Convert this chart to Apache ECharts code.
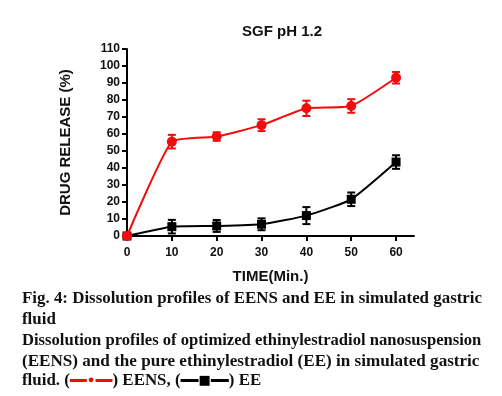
<!DOCTYPE html>
<html>
<head>
<meta charset="utf-8">
<script src="https://cdn.jsdelivr.net/npm/echarts@6/dist/echarts.min.js"></script>
<style>
html, body { margin: 0; padding: 0; background: #fff; }
#chart { width: 502px; height: 396px; }
</style>
</head>
<body>
<div id="chart"></div>
<script>
// values
const timeMin = [0, 10, 20, 30, 40, 50, 60];
const eensRelease = [0, 55.5, 58.5, 65.2, 75.1, 76.5, 93.1];
const eensSd = [0, 4, 2.5, 3.5, 4.5, 4, 3.4];
const eeRelease = [0, 5.5, 5.9, 6.9, 12, 21.6, 43.5];
const eeSd = [0, 4, 3.5, 3.5, 5, 4, 4];
const xTicks = [0, 10, 20, 30, 40, 50, 60];

const RED = "#f20d0d";
const BLACK = "#000";
const AXIS_FONT = "Liberation Sans, Arial, sans-serif";
const SERIF = "Liberation Serif, Times New Roman, serif";

const pairs = (ys) => timeMin.map((t, i) => [t, ys[i]]);
const errData = (ys, sd) => timeMin.map((t, i) => [t, ys[i] - sd[i], ys[i] + sd[i]]);

const errorBars = (color) => (params, api) => {
	const x = api.value(0);
	const lo = api.coord([x, api.value(1)]);
	const hi = api.coord([x, api.value(2)]);
	const cap = 4;
	const style = { stroke: color, lineWidth: 2 };
	return {
		type: "group",
		children: [
			{ type: "line", shape: { x1: lo[0], y1: lo[1], x2: hi[0], y2: hi[1] }, style },
			{ type: "line", shape: { x1: lo[0] - cap, y1: lo[1], x2: lo[0] + cap, y2: lo[1] }, style },
			{ type: "line", shape: { x1: hi[0] - cap, y1: hi[1], x2: hi[0] + cap, y2: hi[1] }, style },
		],
	};
};

const captionLine = (text, top, size) => {
	const f = "bold " + size + "px " + SERIF;
	return {
		type: "text",
		left: 22,
		top,
		style: {
			text,
			font: f,
			fill: "#111",
			rich: {
				r: { font: f, fill: "#111", verticalAlign: "middle" },
				rl: { width: 17, height: 3, backgroundColor: RED, verticalAlign: "middle" },
				bl: { width: 18, height: 3, backgroundColor: BLACK, verticalAlign: "middle" },
				rdot: { font: "bold 11px " + SERIF, fill: RED, padding: [0, 1, 0, 1], verticalAlign: "middle" },
				bsq: { font: "bold 13px DejaVu Sans", fill: BLACK, verticalAlign: "middle" },
			},
		},
	};
};

const chart = echarts.init(document.getElementById("chart"), null, { renderer: "canvas" });

const option = {
	animation: false,
	title: {
		text: "SGF pH 1.2",
		left: 237,
		top: 19,
		textStyle: { fontFamily: AXIS_FONT, fontWeight: "bold", fontSize: 15, color: "#111" },
	},
	grid: { left: 127, right: 88, top: 49, bottom: 160, containLabel: false },
	xAxis: {
		type: "value",
		min: 0,
		max: 64,
		name: "TIME(Min.)",
		nameLocation: "middle",
		nameGap: 33,
		nameTextStyle: { fontFamily: AXIS_FONT, fontWeight: "bold", fontSize: 15, color: "#111" },
		splitLine: { show: false },
		axisLine: { lineStyle: { color: BLACK, width: 2 } },
		axisTick: { show: true, length: 5, lineStyle: { width: 2, color: BLACK }, customValues: xTicks },
		axisLabel: {
			customValues: xTicks,
			fontFamily: AXIS_FONT, fontWeight: "bold", fontSize: 12, color: "#111", margin: 11,
		},
	},
	yAxis: {
		type: "value",
		min: 0,
		max: 110,
		interval: 10,
		name: "DRUG RELEASE (%)",
		nameLocation: "middle",
		nameGap: 54,
		nameTextStyle: { fontFamily: AXIS_FONT, fontWeight: "bold", fontSize: 15, color: "#111" },
		splitLine: { show: false },
		axisLine: { show: true, lineStyle: { color: BLACK, width: 2 } },
		axisTick: { show: true, length: 5, lineStyle: { width: 2, color: BLACK } },
		axisLabel: { fontFamily: AXIS_FONT, fontWeight: "bold", fontSize: 12, color: "#111", margin: 7 },
	},
	series: [
		{
			type: "custom",
			renderItem: errorBars(BLACK),
			data: errData(eeRelease, eeSd),
			z: 3,
		},
		{
			name: "EE",
			type: "line",
			data: pairs(eeRelease),
			smooth: 0.15,
			symbol: "rect",
			symbolSize: 9,
			itemStyle: { color: BLACK },
			lineStyle: { color: BLACK, width: 2 },
			z: 4,
		},
		{
			type: "custom",
			renderItem: errorBars(RED),
			data: errData(eensRelease, eensSd),
			z: 5,
		},
		{
			name: "EENS",
			type: "line",
			data: pairs(eensRelease),
			smooth: 0.15,
			symbol: "circle",
			symbolSize: 10,
			itemStyle: { color: RED },
			lineStyle: { color: RED, width: 2 },
			z: 6,
		},
	],
	graphic: [
		captionLine("Fig. 4: Dissolution profiles of EENS and EE in simulated gastric", 290, 16.9),
		captionLine("fluid", 311, 16.9),
		captionLine("Dissolution profiles of optimized ethinylestradiol nanosuspension", 332, 16.6),
		captionLine("(EENS) and the pure ethinylestradiol (EE) in simulated gastric", 353, 17.1),
		captionLine("{r|fluid. (}{rl| }{rdot|●}{rl| }{r|) EENS, (}{bl| }{bsq|■}{bl| }{r|) EE}", 372, 16.9),
	],
};

chart.setOption(option);
</script>
</body>
</html>
